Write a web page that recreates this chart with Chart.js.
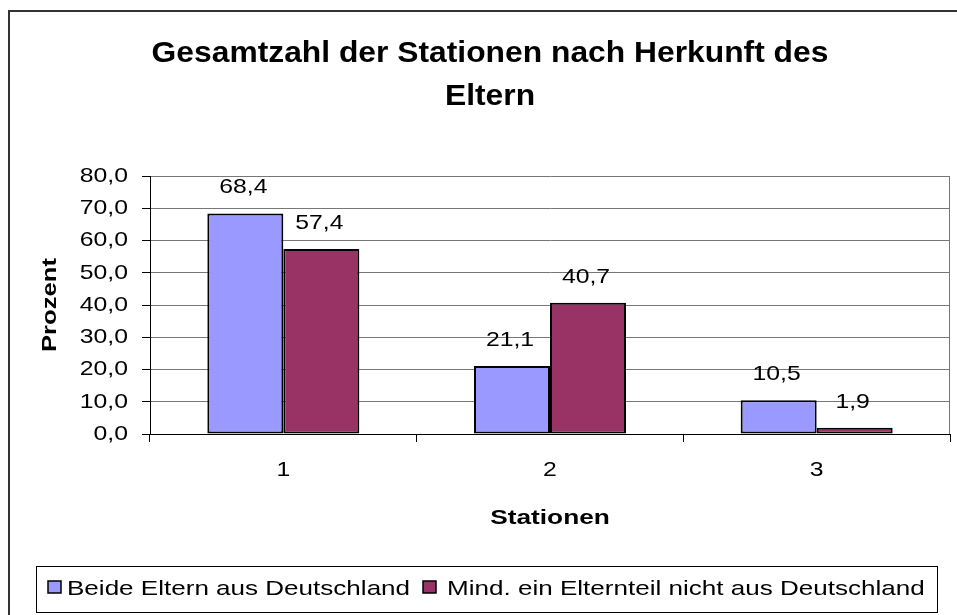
<!DOCTYPE html>
<html>
<head>
<meta charset="utf-8">
<script src="https://cdn.jsdelivr.net/npm/chart.js@4"></script>
<style>
html,body{margin:0;padding:0;background:#fff;}
#wrap{width:957px;height:615px;position:relative;}
</style>
</head>
<body>
<div id="wrap"><canvas id="c"></canvas></div>
<script>
const titleLines = ['Gesamtzahl der Stationen nach Herkunft des', 'Eltern'];
const categories = ['1', '2', '3'];
const seriesNames = ['Beide Eltern aus Deutschland', 'Mind. ein Elternteil nicht aus Deutschland'];
const beideEltern = [68.4, 21.1, 10.5];
const mindEinElternteil = [57.4, 40.7, 1.9];
const yAxisTitle = 'Prozent';
const xAxisTitle = 'Stationen';

const FONT = "'Liberation Sans', Arial, sans-serif";
const fmt = v => Number(v).toFixed(1).replace('.', ',');

function txt(ctx, s, x, y, font, align, sx, rot) {
  ctx.save();
  ctx.font = font;
  ctx.fillStyle = '#000';
  ctx.textAlign = align;
  ctx.textBaseline = 'middle';
  ctx.translate(x, y);
  if (rot) ctx.rotate(rot);
  ctx.scale(sx, 1);
  ctx.fillText(s, 0, 0);
  ctx.restore();
}

const decor = {
  id: 'decor',
  beforeDraw(chart) {
    const ctx = chart.ctx;
    ctx.save();
    ctx.fillStyle = '#fff';
    ctx.fillRect(0, 0, chart.width, chart.height);
    ctx.strokeStyle = '#333';
    ctx.lineWidth = 2;
    ctx.strokeRect(9, 11, 1000, 700);
    ctx.restore();
    const tf = 'bold 30px ' + FONT;
    txt(ctx, titleLines[0], 490, 54, tf, 'center', 1.06);
    txt(ctx, titleLines[1], 490, 97, tf, 'center', 1.06);
  },
  afterDatasetsDraw(chart) {
    const ctx = chart.ctx;
    const a = chart.chartArea;
    ctx.save();
    ctx.strokeStyle = '#777';
    ctx.lineWidth = 1;
    ctx.beginPath();
    ctx.moveTo(a.right - 0.5, a.top);
    ctx.lineTo(a.right - 0.5, a.bottom);
    ctx.stroke();
    ctx.restore();

    const nf = '21px ' + FONT;
    const ys = chart.scales.y;
    ys.ticks.forEach(t => {
      txt(ctx, fmt(t.value), 128, ys.getPixelForValue(t.value), nf, 'right', 1.18);
    });
    const xs = chart.scales.x;
    categories.forEach((c, i) => {
      txt(ctx, c, xs.getPixelForTick(i), 470, nf, 'center', 1.18);
    });
    chart.data.datasets.forEach((ds, di) => {
      chart.getDatasetMeta(di).data.forEach((bar, i) => {
        txt(ctx, fmt(ds.data[i]), bar.x - 2, bar.y - 26, nf, 'center', 1.18);
      });
    });
    const bf = 'bold 21px ' + FONT;
    txt(ctx, xAxisTitle, (a.left + a.right) / 2, 518, bf, 'center', 1.25);
    txt(ctx, yAxisTitle, 50, (a.top + a.bottom) / 2, bf, 'center', 1.22, -Math.PI / 2);
    ctx.save();
    ctx.fillStyle = '#fff';
    ctx.fillRect(36, 566, 901, 46);
    ctx.strokeStyle = '#000';
    ctx.lineWidth = 1;
    ctx.strokeRect(36.5, 566.5, 901, 46);
    const items = [{sx: 48, tx: 67}, {sx: 423, tx: 447}];
    chart.data.datasets.forEach((ds, di) => {
      const it = items[di];
      ctx.fillStyle = ds.backgroundColor;
      ctx.fillRect(it.sx, 581, 13, 12);
      ctx.strokeStyle = '#000';
      ctx.lineWidth = 1.5;
      ctx.strokeRect(it.sx, 581, 13, 12);
      txt(ctx, ds.label, it.tx, 589, nf, 'left', 1.24);
    });
    ctx.restore();
  }
};

new Chart(document.getElementById('c'), {
  type: 'bar',
  data: {
    labels: categories,
    datasets: [
      { label: seriesNames[0], data: beideEltern, backgroundColor: '#9999FF', borderColor: '#000', borderWidth: 2, borderSkipped: false, categoryPercentage: 0.57, barPercentage: 1.0 },
      { label: seriesNames[1], data: mindEinElternteil, backgroundColor: '#993366', borderColor: '#000', borderWidth: 2, borderSkipped: false, categoryPercentage: 0.57, barPercentage: 1.0 }
    ]
  },
  options: {
    responsive: true,
    maintainAspectRatio: false,
    animation: false,
    layout: { padding: { left: 8, right: 7, top: 176, bottom: 131 } },
    plugins: { legend: { display: false }, title: { display: false }, tooltip: { enabled: false } },
    scales: {
      x: {
        offset: true,
        grid: { offset: true, drawOnChartArea: false, drawTicks: true, tickLength: 8, color: '#000', lineWidth: 1 },
        border: { color: '#000', width: 1 },
        ticks: { display: false },
        afterFit: s => { s.height = 50; }
      },
      y: {
        min: 0, max: 80,
        grid: { color: '#777', lineWidth: 1, tickLength: 8, tickColor: '#000' },
        border: { color: '#000', width: 1 },
        ticks: { display: false, stepSize: 10 },
        afterFit: s => { s.width = 142; }
      }
    }
  },
  plugins: [decor]
});
</script>
</body>
</html>
